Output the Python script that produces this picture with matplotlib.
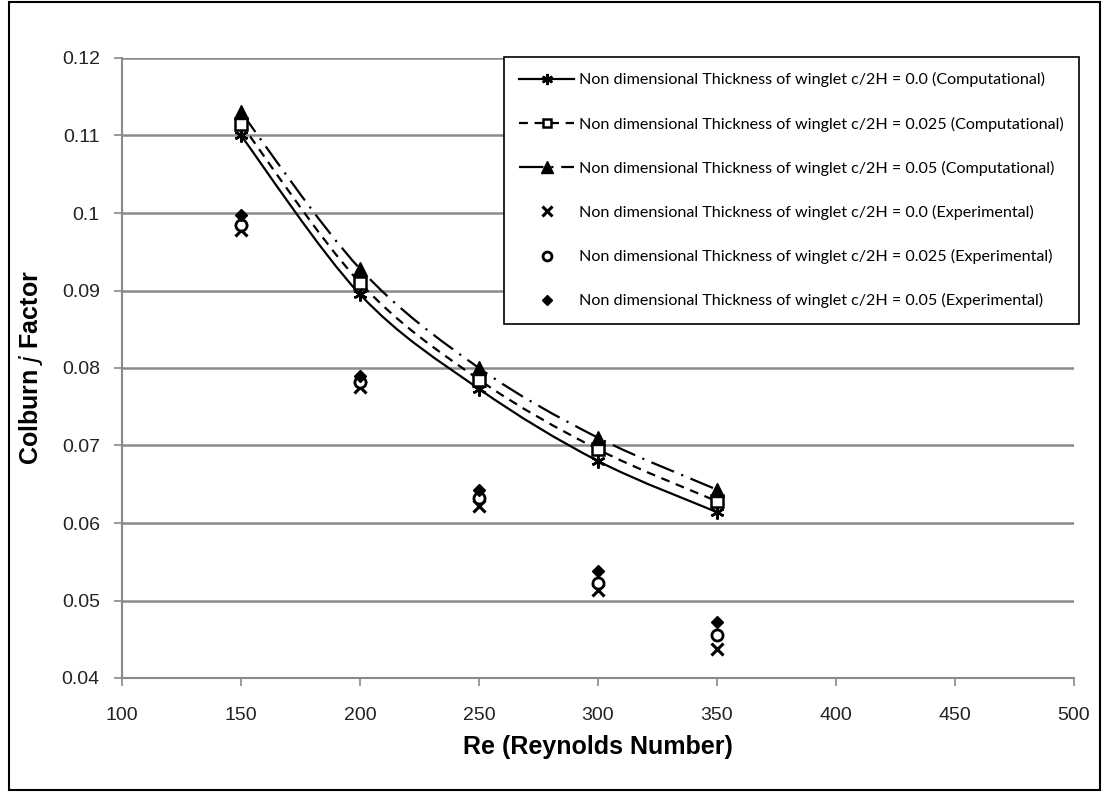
import matplotlib
matplotlib.use("Agg")
import matplotlib.pyplot as plt
from matplotlib.path import Path
from matplotlib.patches import PathPatch, Rectangle
from matplotlib.lines import Line2D

re_vals = [150, 200, 250, 300, 350]

# computational (smoothed lines)
comp_00 = [0.1100, 0.0895, 0.0773, 0.0680, 0.0614]
comp_025 = [0.1115, 0.0910, 0.0785, 0.0695, 0.0628]
comp_05 = [0.1130, 0.0928, 0.0800, 0.0710, 0.0643]

# experimental (markers only)
exp_00 = [0.0978, 0.0775, 0.0622, 0.0513, 0.0438]
exp_025 = [0.0985, 0.0782, 0.0632, 0.0522, 0.0456]
exp_05 = [0.0997, 0.0790, 0.0643, 0.0538, 0.0472]

labels = [
    "Non dimensional Thickness of winglet c/2H = 0.0 (Computational)",
    "Non dimensional Thickness of winglet c/2H = 0.025 (Computational)",
    "Non dimensional Thickness of winglet c/2H = 0.05 (Computational)",
    "Non dimensional Thickness of winglet c/2H = 0.0 (Experimental)",
    "Non dimensional Thickness of winglet c/2H = 0.025 (Experimental)",
    "Non dimensional Thickness of winglet c/2H = 0.05 (Experimental)",
]

xticks = [100, 150, 200, 250, 300, 350, 400, 450, 500]
yticks = [0.04, 0.05, 0.06, 0.07, 0.08, 0.09, 0.10, 0.11, 0.12]
ytick_labels = ["0.04", "0.05", "0.06", "0.07", "0.08", "0.09", "0.1", "0.11", "0.12"]

GRID = "#8a8a8a"


def smooth_path(xs, ys):
    # Catmull-Rom style bezier through the points, like Excel's smoothed line
    pts = list(zip(xs, ys))
    n = len(pts)
    verts = [pts[0]]
    codes = [Path.MOVETO]
    for i in range(n - 1):
        p0 = pts[i - 1] if i > 0 else pts[i]
        p1 = pts[i]
        p2 = pts[i + 1]
        p3 = pts[i + 2] if i + 2 < n else pts[i + 1]
        c1 = (p1[0] + (p2[0] - p0[0]) / 6, p1[1] + (p2[1] - p0[1]) / 6)
        c2 = (p2[0] - (p3[0] - p1[0]) / 6, p2[1] - (p3[1] - p1[1]) / 6)
        verts += [c1, c2, p2]
        codes += [Path.CURVE4] * 3
    return Path(verts, codes)


fig = plt.figure(figsize=(11.02, 7.92), dpi=100)
ax = fig.add_axes([122 / 1102, 1 - 678 / 792, 952 / 1102, 620 / 792])

comp_styles = [
    dict(ls="-", marker=(6, 2, 0), ms=10, mfc="black", mew=1.8),
    dict(ls=(0, (4, 3)), marker="s", ms=8, mfc="white", mew=1.8),
    dict(ls=(0, (11, 3.5, 1, 3.5)), marker="^", ms=10, mfc="black", mew=1),
]
handles = []
for ys, st in zip([comp_00, comp_025, comp_05], comp_styles):
    patch = PathPatch(smooth_path(re_vals, ys), fill=False, edgecolor="black",
                      lw=1.6, linestyle=st["ls"], zorder=3)
    ax.add_patch(patch)
    ax.plot(re_vals, ys, linestyle="none", marker=st["marker"], ms=st["ms"],
            mfc=st["mfc"], mec="black", mew=st["mew"], zorder=4)
    handles.append(Line2D([], [], color="black", lw=1.6, linestyle=st["ls"],
                          marker=st["marker"], ms=st["ms"] * 0.8, mfc=st["mfc"],
                          mec="black", mew=st["mew"]))

exp_styles = [
    dict(marker="x", ms=9, mfc="black", mew=2.2),
    dict(marker="o", ms=8, mfc="white", mew=2.0),
    dict(marker="D", ms=6, mfc="black", mew=1),
]
for ys, st in zip([exp_00, exp_025, exp_05], exp_styles):
    ax.plot(re_vals, ys, linestyle="none", marker=st["marker"], ms=st["ms"],
            mfc=st["mfc"], mec="black", mew=st["mew"], zorder=4)
    handles.append(Line2D([], [], linestyle="none", marker=st["marker"],
                          ms=st["ms"] * 0.8, mfc=st["mfc"], mec="black",
                          mew=st["mew"]))

ax.set_xlim(100, 500)
ax.set_ylim(0.04, 0.12)
ax.set_xticks(xticks)
ax.set_yticks(yticks)
ax.set_yticklabels(ytick_labels)
ax.yaxis.grid(True, color=GRID, lw=1.8)
ax.set_axisbelow(True)
for s in ["top", "right"]:
    ax.spines[s].set_visible(False)
for s in ["left", "bottom"]:
    ax.spines[s].set_color(GRID)
    ax.spines[s].set_linewidth(1.5)
ax.tick_params(axis="both", direction="out", length=6, width=1.2, color=GRID,
               labelsize=14, labelcolor="#222222")
ax.tick_params(axis="y", pad=10)
ax.tick_params(axis="x", pad=15)
for t in ax.get_xticklabels() + ax.get_yticklabels():
    t.set_family("Liberation Sans")

ax.set_xlabel("Re (Reynolds Number)", family="Liberation Sans", fontsize=18,
              fontweight="bold", labelpad=8)
ax.set_ylabel("Colburn $\\mathit{j}$ Factor", family="Liberation Sans",
              fontsize=18, fontweight="bold", labelpad=12)

leg = ax.legend(handles, labels, loc="upper left",
                bbox_to_anchor=(504 / 1102, 1 - 57 / 792),
                bbox_transform=fig.transFigure, frameon=True, fancybox=False,
                edgecolor="black", framealpha=1, borderpad=0.95,
                labelspacing=1.81, handlelength=3.4, handletextpad=0.3,
                borderaxespad=0, prop={"family": "Lato", "size": 11.6})
leg.get_frame().set_linewidth(1.2)
leg.set_zorder(5)

fig.patches.append(Rectangle((9 / 1102, 2 / 792), 1 - 11 / 1102, 1 - 4 / 792,
                             transform=fig.transFigure, fill=False,
                             edgecolor="black", lw=1.5))

fig.savefig("out.png", dpi=100)
